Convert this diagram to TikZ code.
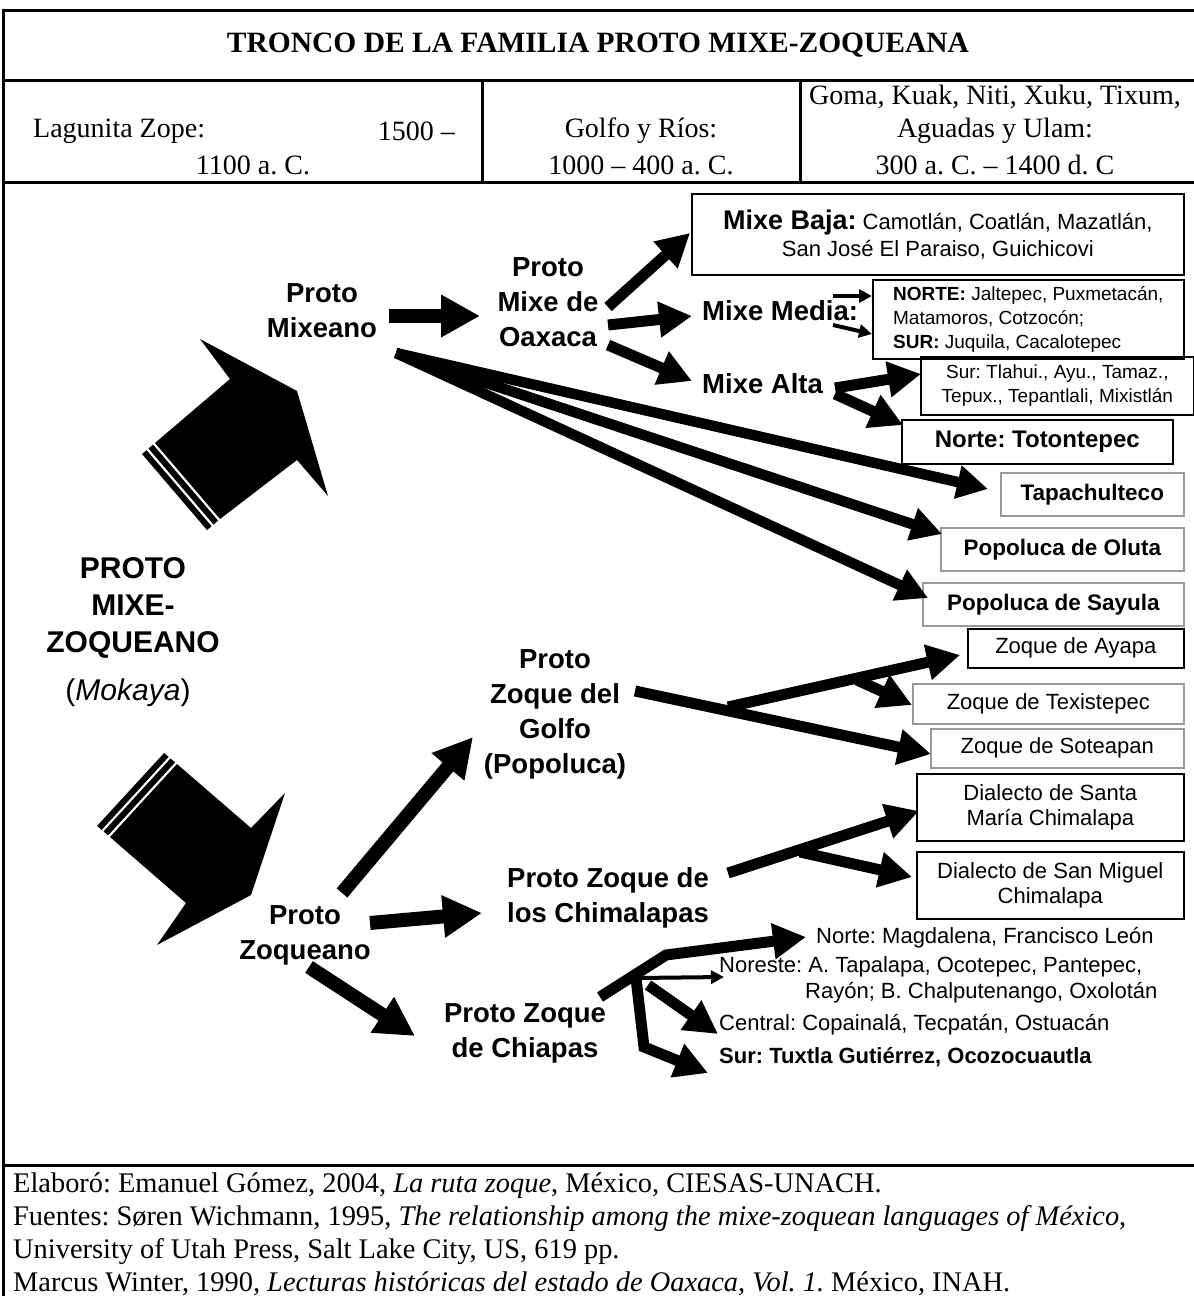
\documentclass[tikz,border=0pt]{standalone}
\usepackage{fontspec}
\setmainfont{Liberation Serif}
\setsansfont{Liberation Sans}
\usetikzlibrary{arrows.meta}
\frenchspacing
\begin{document}
\frenchspacing
\begin{tikzpicture}[x=1pt,y=-1pt,
  rule/.style={line width=3pt},
  ser/.style={font=\fontsize{28}{34}\selectfont, inner sep=0pt},
  foot/.style={font=\fontsize{28.4}{33}\selectfont, inner sep=0pt, anchor=base west},
  lab/.style={font=\sffamily\bfseries\fontsize{27.5}{35}\selectfont, align=center, inner sep=0pt},
  box/.style={draw=black, line width=1.6pt, inner sep=0pt, align=center, anchor=north west,
              font=\sffamily\fontsize{22}{27}\selectfont},
  gbox/.style={box, draw=black!40},
  bbox/.style={box, font=\sffamily\bfseries\fontsize{22.5}{27}\selectfont},
  gbbox/.style={bbox, draw=black!40},
  stxt/.style={font=\sffamily\fontsize{22}{27}\selectfont, inner sep=0pt, anchor=west},
  fatA/.style={line width=14pt, -{Triangle[length=39pt,width=40pt]}},
  fatB/.style={line width=11pt, -{Triangle[length=33pt,width=34pt]}},
  fatC/.style={line width=10.5pt, -{Triangle[length=31pt,width=32pt]}},
  thinar/.style={line width=4pt, -{Triangle[length=13pt,width=13pt]}}
]
\useasboundingbox (0,0) rectangle (1194,1296);

% ---------- frame ----------
\draw[rule] (3,10) -- (1194,10);
\draw[rule] (3,8.5) -- (3,1296);
\draw[rule] (3,80) -- (1194,80);
\draw[rule] (3,182) -- (1194,182);
\draw[rule] (482,80) -- (482,182);
\draw[rule] (800,80) -- (800,182);
\draw[rule] (3,1165) -- (1194,1165);

% ---------- header ----------
\node[font=\bfseries\fontsize{29.5}{34}\selectfont, inner sep=0pt] (title) at (598,45) {TRONCO DE LA FAMILIA PROTO MIXE-ZOQUEANA};
\node[ser, anchor=west] (lag) at (33,131) {Lagunita Zope:};
\node[ser, anchor=east] (lagA) at (455,131) {1500 –};
\node[ser] (lagB) at (253,165) {1100 a. C.};
\node[ser] (gol) at (641,131) {Golfo y Ríos:};
\node[ser] (golB) at (641,165) {1000 – 400 a. C.};
\node[ser] (gom) at (995,97) {Goma, Kuak, Niti, Xuku, Tixum,};
\node[ser] (gomB) at (995,131) {Aguadas y Ulam:};
\node[ser] (gomC) at (995,165) {300 a. C. – 1400 d. C};

% ---------- footer ----------
\node[foot] (f1) at (13,1192) {Elaboró: Emanuel Gómez, 2004, \textit{La ruta zoque}, México, CIESAS-UNACH.};
\node[foot] (f2) at (13,1225) {Fuentes: Søren Wichmann, 1995, \textit{The relationship among the mixe-zoquean languages of México},};
\node[foot] (f3) at (13,1258) {University of Utah Press, Salt Lake City, US, 619 pp.};
\node[foot] (f4) at (13,1291) {Marcus Winter, 1990, \textit{Lecturas históricas del estado de Oaxaca, Vol. 1.} México, INAH.};

% ---------- big block arrows ----------
\fill (155,443) -- (230,379) -- (200,339) -- (297,391) -- (328,496) -- (297,460) -- (220,519) -- cycle;
\fill (153.1,444.6) -- (218.1,520.6) -- (213.5,524.5) -- (148.5,448.5) -- cycle;
\fill (146.6,450.2) -- (211.6,526.2) -- (207.1,530.1) -- (142.1,454.1) -- cycle;

\fill (110,837) -- (186,903) -- (157,945) -- (251,895) -- (285,793) -- (251,828) -- (177,764) -- cycle;
\fill (108.1,835.4) -- (175.1,762.4) -- (170.5,758.5) -- (103.5,831.5) -- cycle;
\fill (101.6,829.9) -- (168.6,756.9) -- (164.1,753.0) -- (97.1,825.9) -- cycle;

% ---------- labels ----------
\node[lab, font=\sffamily\bfseries\fontsize{30}{37}\selectfont] (pmz) at (133,608) {PROTO\\MIXE-\\ZOQUEANO};
\node[lab, font=\sffamily\fontsize{30}{37}\selectfont] (mok) at (128,693) {(\textit{Mokaya})};
\node[lab] (mixeano) at (322,311) {Proto\\Mixeano};
\node[lab] (oaxaca) at (548,302) {Proto\\Mixe de\\Oaxaca};
\node[lab, anchor=west] (media) at (702,311) {Mixe Media:};
\node[lab, anchor=west] (alta) at (702,384) {Mixe Alta};
\node[lab] (golfo) at (555,714) {Proto\\Zoque del\\Golfo\\(Popoluca)};
\node[lab] (chima) at (608,898) {Proto Zoque de\\los Chimalapas};
\node[lab] (zoqueano) at (305,935) {Proto\\Zoqueano};
\node[lab] (chiapas) at (525,1033) {Proto Zoque\\de Chiapas};

% ---------- boxes ----------
\node[box, minimum width=492pt, minimum height=81pt] (baja) at (691,193)
  {{\bfseries\fontsize{27}{28}\selectfont Mixe Baja:} Camotlán, Coatlán, Mazatlán,\\San José El Paraiso, Guichicovi};
\node[box, align=left, minimum width=311pt, minimum height=79pt, font=\sffamily\fontsize{19}{24}\selectfont] (nortem) at (872,279)
  {\textbf{NORTE:} Jaltepec, Puxmetacán,\\Matamoros, Cotzocón;\\\textbf{SUR:} Juquila, Cacalotepec};
\node[box, minimum width=273pt, minimum height=58pt, font=\sffamily\fontsize{19}{24}\selectfont] (sura) at (920,356)
  {Sur: Tlahui., Ayu., Tamaz.,\\Tepux., Tepantlali, Mixistlán};
\node[bbox, minimum width=271pt, minimum height=44pt, font=\sffamily\bfseries\fontsize{24}{28}\selectfont] (toto) at (901,419) {Norte: Totontepec};
\node[gbbox, minimum width=183pt, minimum height=43pt] (tapa) at (1000,472) {Tapachulteco};
\node[gbbox, minimum width=243pt, minimum height=43pt] (oluta) at (940,527) {Popoluca de Oluta};
\node[gbbox, minimum width=261pt, minimum height=43pt] (sayula) at (922,582) {Popoluca de Sayula};
\node[box, minimum width=216pt, minimum height=39pt] (ayapa) at (967,628) {Zoque de Ayapa};
\node[gbox, minimum width=271pt, minimum height=40pt] (texis) at (912,683) {Zoque de Texistepec};
\node[gbox, minimum width=253pt, minimum height=39pt] (sotea) at (930,728) {Zoque de Soteapan};
\node[box, minimum width=267pt, minimum height=67pt, font=\sffamily\fontsize{22}{25}\selectfont] (smaria) at (916,773) {Dialecto de Santa\\María Chimalapa};
\node[box, minimum width=267pt, minimum height=67pt, font=\sffamily\fontsize{22}{25}\selectfont] (smiguel) at (916,851) {Dialecto de San Miguel\\Chimalapa};

% ---------- Chiapas texts ----------
\node[stxt] (cnorte) at (816,938) {Norte: Magdalena, Francisco León};
\node[stxt] (cnore) at (719,967) {Noreste: A. Tapalapa, Ocotepec, Pantepec,};
\node[stxt] (cnoreB) at (805,993) {Rayón; B. Chalputenango, Oxolotán};
\node[stxt] (ccent) at (719,1025) {Central: Copainalá, Tecpatán, Ostuacán};
\node[stxt, font=\sffamily\bfseries\fontsize{22}{27}\selectfont] (csur) at (719,1057) {Sur: Tuxtla Gutiérrez, Ocozocuautla};

% ---------- connector coordinates ----------
\coordinate (m0) at (389,316);  \coordinate (m1) at (480,316);
\coordinate (o0) at (608,307);  \coordinate (oB) at (690,233);
\coordinate (o1) at (608,325);  \coordinate (oM) at (692,316);
\coordinate (o2) at (608,345);  \coordinate (oA) at (692,381);
\coordinate (md1) at (833,296); \coordinate (md1e) at (872,296);
\coordinate (md2) at (833,325); \coordinate (md2e) at (872,334);
\coordinate (a0) at (835,388);  \coordinate (aS) at (921,374);
\coordinate (a1) at (835,394);  \coordinate (aN) at (903,425);
\coordinate (lx) at (396,353);
\coordinate (tT) at (988,489);  \coordinate (tO) at (942,534);  \coordinate (tS) at (928,598);
\coordinate (z0) at (342,893);  \coordinate (zG) at (473,737);
\coordinate (z1) at (370,923);  \coordinate (zC) at (482,913);
\coordinate (z2) at (309,967);  \coordinate (zP) at (415,1036);
\coordinate (g0) at (635,691);  \coordinate (gS) at (931,754);
\coordinate (gh) at (728,707);  \coordinate (gA) at (960,655);
\coordinate (gb) at (857,680);  \coordinate (gT) at (912,705);
\coordinate (c0) at (728,873);  \coordinate (cM) at (919,811);
\coordinate (cb) at (800,852);  \coordinate (cG) at (912,877);
\coordinate (p0) at (600,997);  \coordinate (pb) at (666,955);  \coordinate (pN) at (806,937);
\coordinate (ph) at (636,978);  \coordinate (pE) at (724,977);
\coordinate (ph2) at (648,985); \coordinate (pC) at (718,1034);
\coordinate (ps) at (644,1047); \coordinate (pS) at (708,1073);

% ---------- connectors ----------
\draw[fatA] (m0) -- (m1);
\draw[fatB] (o0) -- (oB);
\draw[fatB] (o1) -- (oM);
\draw[fatB] (o2) -- (oA);
\draw[thinar] (md1) -- (md1e);
\draw[thinar] (md2) -- (md2e);
\draw[fatB] (a0) -- (aS);
\draw[fatB] (a1) -- (aN);
\draw[fatC] (lx) -- (tT);
\draw[fatC] (lx) -- (tO);
\draw[fatC] (lx) -- (tS);
\draw[fatA] (z0) -- (zG);
\draw[fatA] (z1) -- (zC);
\draw[fatA] (z2) -- (zP);
\draw[fatB] (g0) -- (gS);
\draw[fatB] (gh) -- (gA);
\draw[fatB] (gb) -- (gT);
\draw[fatB] (c0) -- (cM);
\draw[fatB] (cb) -- (cG);
\draw[fatB] (p0) -- (pb) -- (pN);
\draw[thinar] (ph) -- (pE);
\draw[fatB] (ph2) -- (pC);
\draw[fatB] (ph) -- (ps) -- (pS);
\end{tikzpicture}
\end{document}
